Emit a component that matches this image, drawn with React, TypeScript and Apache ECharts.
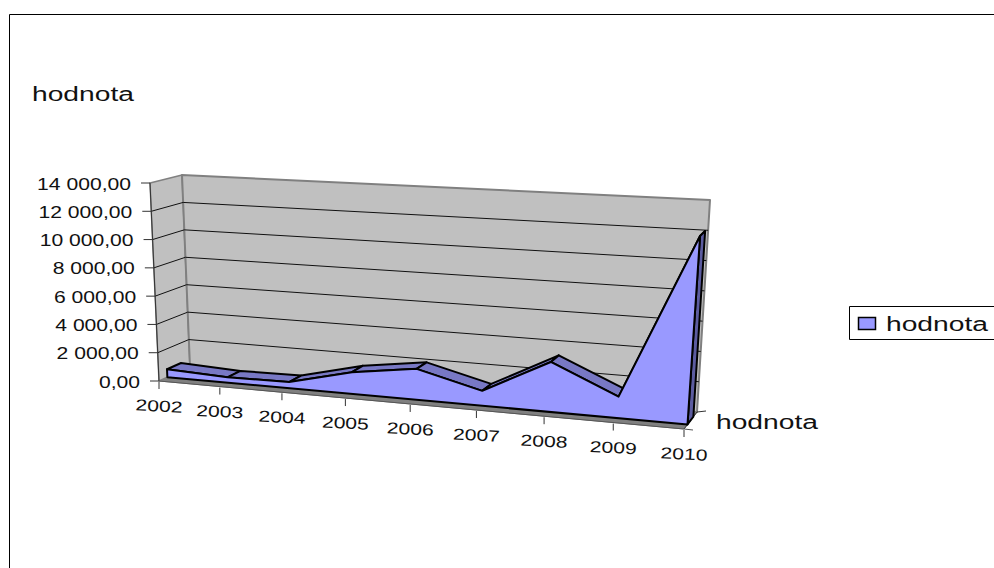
import React, { useEffect, useRef } from "react";
import * as echarts from "echarts";

const years = ["2002", "2003", "2004", "2005", "2006", "2007", "2008", "2009", "2010"];
const values = [570, 380, 430, 1500, 2100, 1000, 3300, 1400, 12150];
const valueTicks = [0, 2000, 4000, 6000, 8000, 10000, 12000, 14000];
const valueTickLabels = ["0,00", "2 000,00", "4 000,00", "6 000,00", "8 000,00", "10 000,00", "12 000,00", "14 000,00"];
const seriesName = "hodnota";

type P = [number, number];
const FB: P = [159, 381], FT: P = [150, 183], BB: P = [190, 367], BT: P = [182, 175];
const RFB: P = [684, 429], RFT: P = [699, 210], RBB: P = [697, 412], RBT: P = [710, 200];
const lerp = (a: P, b: P, k: number): P => [a[0] + (b[0] - a[0]) * k, a[1] + (b[1] - a[1]) * k];
const persp = (t: number) => t / (1.09 - 0.09 * t);
const project = (t: number, v: number, d: number): P => {
  const s = persp(t);
  const lf = lerp(FB, FT, v), lb = lerp(BB, BT, v), rf = lerp(RFB, RFT, v), rb = lerp(RBB, RBT, v);
  return lerp(lerp(lf, rf, s), lerp(lb, rb, s), d);
};
const D0 = 0.27, D1 = 0.72;
const FONT = "Liberation Sans";
const poly = (points: P[], fill: string, stroke: string, lineWidth = 1) => ({
  type: "polygon", shape: { points }, style: { fill, stroke, lineWidth, lineJoin: "round" },
});
const line = (a: P, b: P, stroke: string, lineWidth = 1) => ({
  type: "line", shape: { x1: a[0], y1: a[1], x2: b[0], y2: b[1] }, style: { stroke, lineWidth },
});
const label = (text: string, x: number, y: number, align: string, size: number, scaleX: number, rotation = 0) => ({
  type: "text", x, y, scaleX, rotation,
  style: { text, fontSize: size, fontFamily: FONT, fill: "#111", align, verticalAlign: "middle" },
});

export default function App() {
  const ref = useRef<HTMLDivElement>(null);
  useEffect(() => {
    document.body.style.margin = "0";
    const chart = echarts.init(ref.current!, null, { renderer: "svg" });
    chart.setOption({
      animation: false,
      backgroundColor: "#fff",
      grid: { left: 159, top: 183, width: 525, height: 198 },
      xAxis: { type: "category", data: years, boundaryGap: false, show: false },
      yAxis: { type: "value", min: 0, max: 14000, interval: 2000, show: false },
      graphic: [
        { type: "rect", shape: { x: 9.5, y: 14.5, width: 1100, height: 700 }, style: { fill: "none", stroke: "#000", lineWidth: 1 } },
        { type: "text", x: 32, y: 94, scaleX: 1.41, style: { text: seriesName, fontSize: 20, fontFamily: FONT, fill: "#111", verticalAlign: "middle" } },
        { type: "rect", shape: { x: 849.5, y: 306.5, width: 200, height: 33 }, style: { fill: "#fff", stroke: "#000", lineWidth: 1 } },
        { type: "rect", shape: { x: 858.5, y: 317.5, width: 17, height: 12 }, style: { fill: "#9999ff", stroke: "#000", lineWidth: 1.5 } },
        { type: "text", x: 886, y: 324, scaleX: 1.41, style: { text: seriesName, fontSize: 20, fontFamily: FONT, fill: "#111", verticalAlign: "middle" } },
      ],
      series: [{
        type: "custom",
        name: seriesName,
        coordinateSystem: "cartesian2d",
        data: values.map((v, i) => [i, v]),
        renderItem: (params: any, api: any) => {
          if (params.dataIndex !== 0) return null;
          const g = params.coordSys;
          const toT = (px: number) => (px - g.x) / g.width;
          const toV = (py: number) => (g.y + g.height - py) / g.height;
          const at = (i: number, value: number, d: number) => {
            const c = api.coord([i, value]);
            return project(toT(c[0]), toV(c[1]), d);
          };
          const last = years.length - 1;
          const children: any[] = [];
          const wallTop = valueTicks[valueTicks.length - 1];
          // floor and walls
          children.push(poly([at(0, 0, 0), at(0, 0, 1), at(last, 0, 1), at(last, 0, 0)], "#808080", "#808080"));
          children.push(poly([at(0, 0, 0), at(0, wallTop, 0), at(0, wallTop, 1), at(0, 0, 1)], "#c0c0c0", "#808080", 1.5));
          children.push(poly([at(0, 0, 1), at(0, wallTop, 1), at(last, wallTop, 1), at(last, 0, 1)], "#c0c0c0", "#808080", 2));
          // grid lines and value ticks
          valueTicks.forEach((tick, k) => {
            const f = at(0, tick, 0), b = at(0, tick, 1), r = at(last, tick, 1);
            if (tick > 0 && tick < wallTop) {
              children.push(line(f, b, "#111"));
              children.push(line(b, r, "#111"));
            }
            children.push(line([f[0] - 9, f[1]], f, "#333"));
            children.push(label(valueTickLabels[k], f[0] - 19, f[1] + 1, "right", 16, 1.32));
          });
          // axis lines
          children.push(line(at(0, 0, 0), at(0, wallTop, 0), "#333"));
          children.push(line(at(0, 0, 0), at(last, 0, 0), "#555"));
          children.push(line(at(last, 0, 0), at(last, 0, 1), "#333"));
          // category ticks and labels
          years.forEach((year, i) => {
            const f = at(i, 0, 0);
            children.push(line([f[0], f[1] + 1], [f[0], f[1] + 8], "#333"));
            children.push(label(year, f[0], f[1] + 25, "center", 16, 1.32, -0.05));
          });
          // series axis
          const c0 = at(last, 0, 0), c1 = at(last, 0, 1);
          children.push(line(c0, [c0[0] + 9, c0[1] + 1], "#555"));
          children.push(line(c1, [c1[0] + 9, c1[1] - 1], "#333"));
          children.push(label(seriesName, 716, 422, "left", 20, 1.41));
          // top faces
          for (let i = 0; i < last; i++) {
            children.push(poly(
              [at(i, values[i], D0), at(i + 1, values[i + 1], D0), at(i + 1, values[i + 1], D1), at(i, values[i], D1)],
              "#7878c4", "#000", 2));
          }
          // right end face
          children.push(poly(
            [at(last, values[last], D0), at(last, values[last], D1), at(last, 0, D1), at(last, 0, D0)],
            "#5c5ca0", "#000", 2));
          // front face
          const front: P[] = values.map((v, i) => at(i, v, D0));
          front.push(at(last, 0, D0), at(0, 0, D0));
          children.push(poly(front, "#9999ff", "#000", 2));
          return { type: "group", children };
        },
      }],
    });
    return () => chart.dispose();
  }, []);
  return <div ref={ref} style={{ width: 994, height: 568 }} />;
}
